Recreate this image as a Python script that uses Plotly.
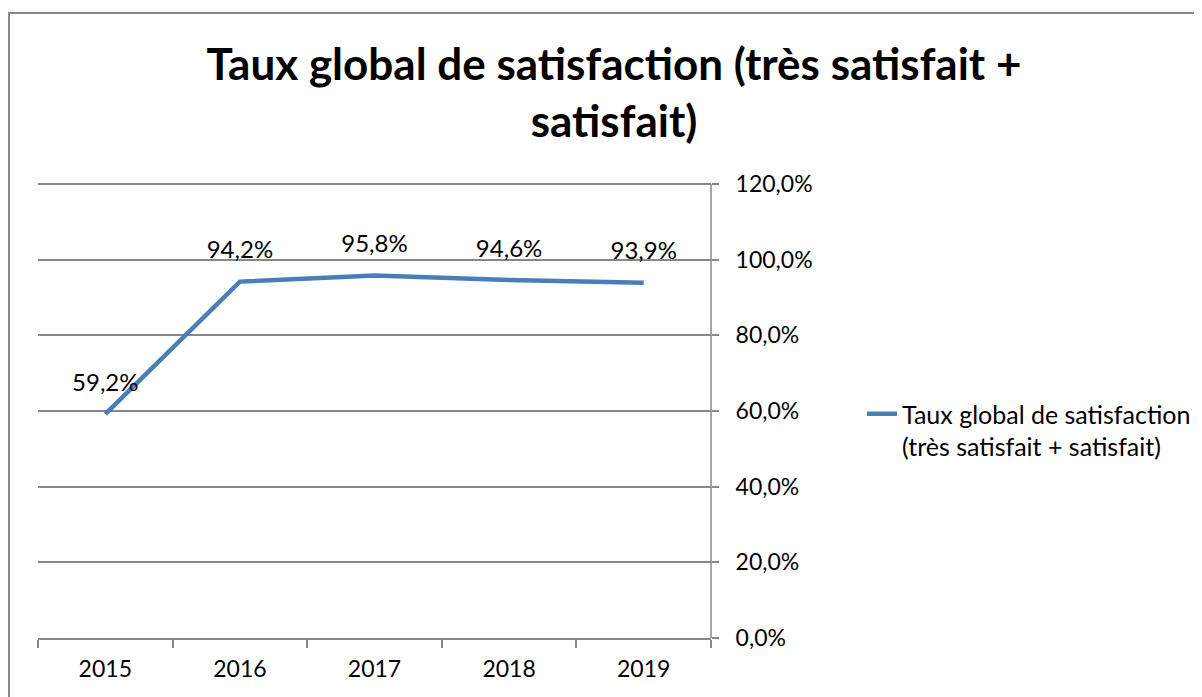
import plotly.graph_objects as go

years = ["2015", "2016", "2017", "2018", "2019"]
values = [59.2, 94.2, 95.8, 94.6, 93.9]
y_ticks = [0, 20, 40, 60, 80, 100, 120]
series_name = "Taux global de satisfaction<br>(très satisfait + satisfait)"
title_text = "Taux global de satisfaction (très satisfait +<br>satisfait)"

W, H = 1202, 697
OFF = 8  # page body margin
FONT = "Lato, Carlito, Calibri, sans-serif"
GRID = "#878787"


def px(x):
    return (x - OFF) / W


def py(y):
    return 1 - (y - OFF) / H


def pct(v):
    return f"{v:.1f}%".replace(".", ",")


fig = go.Figure()
fig.add_trace(go.Scatter(
    x=years, y=values, mode="lines", name=series_name,
    line=dict(color="#4A7EBB", width=4.5),
))
# data labels: transparent markers push the text above the points
fig.add_trace(go.Scatter(
    x=years, y=values, mode="markers+text", showlegend=False,
    hoverinfo="skip",
    marker=dict(size=26, color="rgba(0,0,0,0)", line=dict(width=0)),
    text=[pct(v) for v in values], textposition="top center",
    textfont=dict(family=FONT, size=24, color="#000000"),
    cliponaxis=False,
))

# y range slightly beyond 120 so the top gridline is drawn
Y_TOP = 121
px_per_unit = (638 - 184) / 120
dom_top = 184 - (Y_TOP - 120) * px_per_unit

fig.update_layout(
    width=W, height=H,
    margin=dict(l=0, r=0, t=0, b=0, autoexpand=False),
    paper_bgcolor="white", plot_bgcolor="white",
    font=dict(family=FONT, size=23, color="#000000"),
    title=dict(text=title_text, x=px(614), xanchor="center",
               y=py(80), yanchor="top", automargin=False,
               font=dict(family=FONT, size=44, color="#000000", weight="bold")),
    showlegend=True,
    legend=dict(x=px(862), xanchor="left", y=py(391), yanchor="top",
                valign="top",
                font=dict(family=FONT, size=25), bgcolor="rgba(0,0,0,0)",
                itemwidth=30),
    xaxis=dict(domain=[px(38), px(711)], type="category", range=[-0.5, 4.5],
               automargin=False,
               showgrid=False, showline=True, linecolor=GRID, linewidth=1.5,
               ticks="outside", tickson="boundaries", ticklen=8, tickcolor=GRID,
               tickwidth=1.5, ticklabelstandoff=10,
               tickfont=dict(family=FONT, size=23)),
    yaxis=dict(domain=[py(638), py(dom_top)], range=[0, Y_TOP],
               automargin=False,
               side="right", tickvals=y_ticks,
               ticktext=[pct(t) for t in y_ticks],
               showgrid=True, gridcolor=GRID, gridwidth=1.5,
               showline=False,
               ticks="outside", ticklen=7, tickcolor=GRID, tickwidth=1.5,
               ticklabelstandoff=12, zeroline=False,
               tickfont=dict(family=FONT, size=23)),
    shapes=[
        dict(type="rect", xref="paper", yref="paper",
             x0=px(9), x1=1.2, y0=-0.2, y1=py(13),
             line=dict(color=GRID, width=2), fillcolor="rgba(0,0,0,0)",
             layer="below"),
        # right-hand vertical axis line from 0 to 120
        dict(type="line", xref="x domain", yref="y",
             x0=1, x1=1, y0=0, y1=120,
             line=dict(color=GRID, width=1.5)),
    ],
)

fig.write_html("out.html")
